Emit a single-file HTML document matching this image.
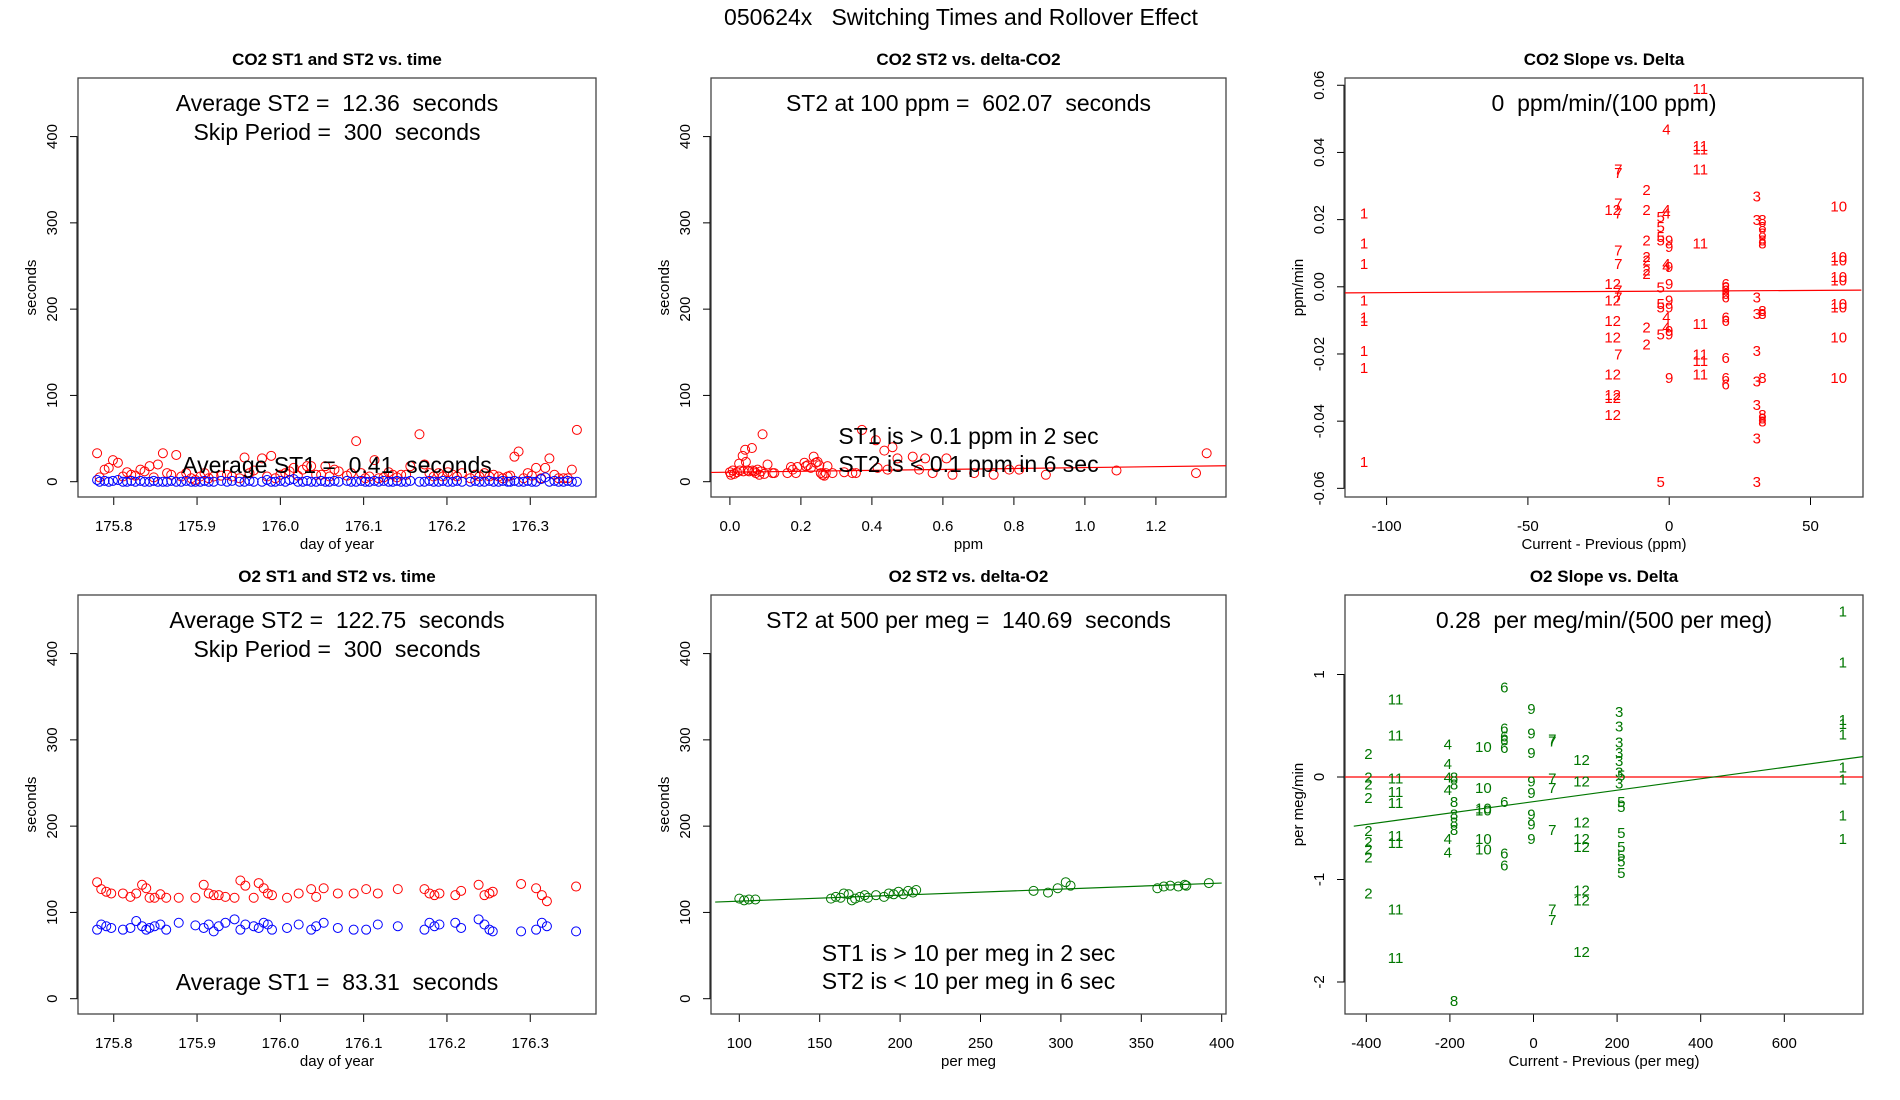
<!DOCTYPE html>
<html><head><meta charset="utf-8"><style>
html,body{margin:0;padding:0;background:#fff;}
svg{display:block;font-family:"Liberation Sans",Arial,sans-serif;}
svg text{white-space:pre;}
</style></head><body>
<svg id="chart" width="1900" height="1100" viewBox="0 0 1900 1100" xmlns="http://www.w3.org/2000/svg">
<text x="961" y="25" font-size="23" text-anchor="middle" xml:space="preserve">050624x   Switching Times and Rollover Effect</text>
</svg>
<script>
// ---- Panel 1 data: CO2 ST1/ST2 vs time ----
const co2Times=[175.780,175.783,175.789,175.794,175.799,175.805,175.811,175.816,175.821,175.826,175.832,175.837,175.843,175.848,175.853,175.859,175.864,175.869,175.875,175.881,175.887,175.893,175.898,175.904,175.909,175.914,175.920,175.929,175.936,175.942,175.951,175.957,175.963,175.968,175.978,175.984,175.989,175.994,176.000,176.006,176.011,176.016,176.021,176.027,176.032,176.037,176.043,176.049,176.054,176.059,176.065,176.070,176.080,176.085,176.091,176.097,176.102,176.107,176.113,176.118,176.124,176.130,176.135,176.140,176.145,176.151,176.156,176.167,176.173,176.179,176.184,176.190,176.195,176.201,176.207,176.212,176.218,176.228,176.234,176.239,176.245,176.251,176.256,176.262,176.267,176.273,176.276,176.281,176.286,176.292,176.297,176.302,176.307,176.313,176.318,176.323,176.329,176.334,176.340,176.345,176.350,176.356];
const co2ST2=[33,5,14,16,25,22,6,11,8,7,14,12,18,5,20,33,10,8,31,6,10,4,2,6,10,4,6,7,8,6,4,28,10,13,27,6,30,4,8,10,12,16,7,14,18,18,8,8,18,6,14,12,7,10,47,10,4,6,25,4,5,11,8,5,8,8,18,55,20,10,6,10,6,11,8,6,10,4,8,6,10,6,8,6,4,6,7,29,35,4,10,7,16,4,16,27,8,4,4,4,14,60];
const co2ST1=[2,0,1,0,1,2,0,0,1,0,1,0,0,1,0,0,0,1,0,0,1,0,0,0,1,0,0,1,0,1,0,0,1,0,0,2,0,0,1,0,2,3,0,0,1,0,0,1,0,0,1,0,1,0,0,1,0,0,1,0,1,0,0,1,0,0,1,0,0,1,0,0,1,0,0,1,0,0,1,0,0,1,0,0,1,0,0,1,0,0,1,0,0,3,5,0,1,0,0,1,0,0];
// ---- Panel 2 data: CO2 ST2 vs delta ----
const co2Delta=[0.00,0.003,0.008,0.012,0.02,0.026,0.028,0.036,0.038,0.043,0.045,0.05,0.054,0.062,0.064,0.069,0.073,0.078,0.083,0.087,0.092,0.097,0.106,0.12,0.125,0.162,0.172,0.177,0.186,0.19,0.21,0.214,0.219,0.228,0.236,0.242,0.247,0.252,0.256,0.261,0.266,0.27,0.275,0.289,0.322,0.345,0.355,0.372,0.411,0.416,0.435,0.444,0.458,0.472,0.515,0.533,0.55,0.571,0.61,0.627,0.688,0.743,0.787,0.815,0.89,1.089,1.313,1.343];
const co2DeltaST2=[11,8,13,9,11,21,13,30,12,37,23,13,12,39,13,12,10,14,8,12,55,9,20,10,10,10,17,14,10,17,22,18,19,16,29,22,23,19,10,8,7,10,18,10,11,10,10,60,48,16,36,14,40,27,29,14,27,10,27,8,10,8,14,14,8,13,10,33];
const co2Fit=[11,18.5]; // ST2 at delta 0 and 1.4
// ---- Panel 3 data: CO2 slope vs delta (labels = month) ----
const co2Groups=[1,12,7,2,5,4,9,11,6,3,8,10];
const co2GroupDelta=[-108,-20,-18,-8,-3,-1,0,11,20,31,33,60];
const co2Slopes=[
 [0.022,0.013,0.007,-0.004,-0.009,-0.010,-0.019,-0.024,-0.052],
 [0.023,0.001,-0.004,-0.010,-0.015,-0.026,-0.032,-0.033,-0.038],
 [0.035,0.034,0.025,0.022,0.011,0.007,-0.001,-0.003,-0.020],
 [0.029,0.023,0.014,0.009,0.008,0.005,0.004,-0.012,-0.017],
 [0.021,0.018,0.015,0.014,0.000,-0.005,-0.006,-0.014,-0.058],
 [0.047,0.023,0.022,0.007,0.006,-0.009,-0.012],
 [0.014,0.012,0.006,0.001,-0.004,-0.006,-0.013,-0.014,-0.027],
 [0.059,0.042,0.041,0.035,0.013,-0.011,-0.020,-0.022,-0.026],
 [0.001,0.000,-0.001,-0.002,-0.003,-0.009,-0.010,-0.021,-0.027,-0.029],
 [0.027,0.020,-0.003,-0.008,-0.019,-0.028,-0.035,-0.045,-0.058],
 [0.020,0.018,0.016,0.014,0.013,-0.007,-0.008,-0.027,-0.038,-0.039,-0.040],
 [0.024,0.009,0.008,0.003,0.002,-0.005,-0.006,-0.015,-0.027]];
const co2SlopeFit=[-0.0018,-0.0010]; // at x=-115 and x=68
// ---- Panel 4 data: O2 ST1/ST2 vs time ----
const o2Times=[175.780,175.785,175.791,175.797,175.811,175.820,175.827,175.834,175.839,175.843,175.849,175.856,175.863,175.878,175.898,175.908,175.914,175.920,175.926,175.934,175.945,175.952,175.958,175.968,175.974,175.980,175.985,175.990,176.008,176.022,176.037,176.043,176.052,176.069,176.088,176.103,176.117,176.141,176.173,176.179,176.185,176.191,176.210,176.217,176.238,176.245,176.251,176.255,176.289,176.307,176.314,176.320,176.355];
const o2ST2=[135,127,124,122,122,118,122,132,128,117,117,121,117,117,117,132,122,120,120,118,117,137,131,117,134,128,122,120,117,122,127,118,128,122,122,127,122,127,127,122,120,122,120,125,132,120,122,124,133,128,120,113,130];
const o2ST1=[80,86,84,82,80,82,90,84,80,82,84,86,80,88,85,82,86,78,84,88,92,80,86,84,82,88,86,80,82,86,80,84,88,82,80,80,86,84,80,88,84,86,88,82,92,86,80,78,78,80,88,84,78];
// ---- Panel 5 data: O2 ST2 vs delta ----
const o2Delta=[100,103,106,110,157,160,163,165,168,170,172,175,178,180,185,190,193,196,199,202,205,208,210,283,292,298,303,306,360,364,368,373,377,378,392];
const o2DeltaST2=[116,114,115,115,116,118,117,122,121,114,116,118,120,117,120,118,122,121,124,121,125,123,126,125,123,128,135,131,128,130,131,130,132,131,134];
const o2Fit=[112,134]; // ST2 at delta 85 and 400
// ---- Panel 6 data: O2 slope vs delta ----
const o2Groups=[2,11,4,8,10,6,9,7,12,3,5,1];
const o2GroupDelta=[-395,-330,-205,-190,-120,-70,-5,45,115,205,210,740];
const o2Slopes=[
 [0.23,0.0,-0.07,-0.2,-0.52,-0.63,-0.7,-0.78,-1.13],
 [0.76,0.41,-0.01,-0.14,-0.25,-0.57,-0.64,-1.29,-1.76],
 [0.32,0.13,0.0,-0.12,-0.6,-0.73],
 [0.0,-0.07,-0.24,-0.36,-0.44,-0.51,-2.18],
 [0.3,-0.1,-0.3,-0.32,-0.6,-0.7],
 [0.88,0.48,0.4,0.36,0.29,-0.24,-0.74,-0.86],
 [0.67,0.43,0.24,-0.04,-0.15,-0.36,-0.46,-0.6],
 [0.37,0.35,-0.01,-0.1,-0.51,-1.29,-1.39],
 [0.17,-0.04,-0.44,-0.6,-0.68,-1.1,-1.2,-1.7],
 [0.64,0.5,0.34,0.24,0.16,0.05,-0.06],
 [0.02,-0.24,-0.29,-0.54,-0.68,-0.76,-0.82,-0.93],
 [1.62,1.12,0.56,0.52,0.42,0.1,-0.02,-0.37,-0.6]];
const o2SlopeFit=[-0.48,0.20]; // at x=-430 and x=790

const NS="http://www.w3.org/2000/svg";
const svg=document.getElementById('chart');
function el(tag,attrs,parent,txt){const e=document.createElementNS(NS,tag);for(const k in attrs)e.setAttribute(k,attrs[k]);if(txt!==undefined)e.textContent=txt;(parent||svg).appendChild(e);return e;}

function panel(id,bx0,by0,bx1,by1,title,xsc,xticks,xfmt,ysc,yticks,yfmt,xlab,ylab){
  const g=el('g',{});
  
  
  const cp=el('clipPath',{id:id+'-clip'},g);
  el('rect',{x:bx0,y:by0,width:bx1-bx0,height:by1-by0},cp);
  const t=el('text',{x:(bx0+bx1)/2,y:by0-13,'font-size':17,'font-weight':'bold','text-anchor':'middle'},g,title);
  
  
  const xa=el('g',{},g);
  
  
  el('line',{x1:xsc(xticks[0]),x2:xsc(xticks[xticks.length-1]),y1:by1,y2:by1,stroke:'#000','stroke-width':1},xa);
  xticks.forEach(v=>{const x=xsc(v);el('line',{x1:x,x2:x,y1:by1,y2:by1+8,stroke:'#000','stroke-width':1},xa);
    const lt=el('text',{x:x,y:by1+34,'font-size':15,'text-anchor':'middle'},xa,xfmt(v));
    
    });
  const xl=el('text',{x:(bx0+bx1)/2,y:by1+52,'font-size':15,'text-anchor':'middle'},g,xlab);
  
  
  const ya=el('g',{},g);
  
  
  el('line',{x1:bx0-1,x2:bx0-1,y1:ysc(yticks[0]),y2:ysc(yticks[yticks.length-1]),stroke:'#000','stroke-width':1},ya);
  yticks.forEach(v=>{const y=ysc(v);el('line',{x1:bx0,x2:bx0-8,y1:y,y2:y,stroke:'#000','stroke-width':1},ya);
    const lt=el('text',{x:0,y:0,'font-size':15,'text-anchor':'middle',transform:`translate(${bx0-21},${y}) rotate(-90)`},ya,yfmt(v));
    
    });
  const yl=el('text',{x:0,y:0,'font-size':15,'text-anchor':'middle',transform:`translate(${bx0-42},${(by0+by1)/2}) rotate(-90)`},g,ylab);
  
  
  const box=el('rect',{x:bx0,y:by0,width:bx1-bx0,height:by1-by0,fill:'none',stroke:'#444','stroke-width':1.3},g);
  
  
  const plot=el('g',{'clip-path':`url(#${id}-clip)`},g);
  
  
  return {g,plot};
}
function note(g,x,y,txt,name){const t=el('text',{x:x,y:y,'font-size':23,'text-anchor':'middle','xml:space':'preserve'},g,txt);
  
  }
function circles(plot,xs,ys,xsc,ysc,color,name){xs.forEach((v,i)=>{const c=el('circle',{cx:xsc(v),cy:ysc(ys[i]),r:4.5,fill:'none',stroke:color,'stroke-width':1},plot);
  
  });}
function fitline(plot,xa,xb,ya,yb,xsc,ysc,color,name){const l=el('line',{x1:xsc(xa),x2:xsc(xb),y1:ysc(ya),y2:ysc(yb),stroke:color,'stroke-width':1.2},plot);
  
  }
function labels(plot,groups,gx,gy,xsc,ysc,color,name){groups.forEach((lab,i)=>{gy[i].forEach(v=>{const t=el('text',{x:xsc(gx[i]),y:ysc(v)+5.5,'font-size':15,'text-anchor':'middle',fill:color},plot,String(lab));
  
  });});}

// layout (real pixels)
const C1=[78,596], C2=[711,1226], C3=[1345,1863], R1=[78,497], R2=[595,1014];
const timeX=v=>113.75+(v-175.8)*833;
const secY1=v=>481.7-v*0.8628, secY2=v=>998.7-v*0.8628;
const secTicks=[0,100,200,300,400], timeTicks=[175.8,175.9,176.0,176.1,176.2,176.3];
const f1=v=>v.toFixed(1), f0=v=>String(v);
const cx1=(C1[0]+C1[1])/2, cx2=(C2[0]+C2[1])/2, cx3=(C3[0]+C3[1])/2;

// Panel 1
let p=panel('co2-time',C1[0],R1[0],C1[1],R1[1],'CO2 ST1 and ST2 vs. time',timeX,timeTicks,f1,secY1,secTicks,f0,'day of year','seconds');
circles(p.plot,co2Times,co2ST2,timeX,secY1,'#ff0000','co2-st2-point');
circles(p.plot,co2Times,co2ST1,timeX,secY1,'#0000ff','co2-st1-point');
note(p.g,cx1,111,'Average ST2 =  12.36  seconds','co2-avg-st2-note');
note(p.g,cx1,140,'Skip Period =  300  seconds','co2-skip-note');
note(p.g,cx1,473,'Average ST1 =  0.41  seconds','co2-avg-st1-note');

// Panel 2
const ppmX=v=>729.9+v*355;
p=panel('co2-delta',C2[0],R1[0],C2[1],R1[1],'CO2 ST2 vs. delta-CO2',ppmX,[0,0.2,0.4,0.6,0.8,1.0,1.2],f1,secY1,secTicks,f0,'ppm','seconds');
circles(p.plot,co2Delta,co2DeltaST2,ppmX,secY1,'#ff0000','co2-delta-point');
fitline(p.plot,-0.1,1.5,co2Fit[0]-0.54,co2Fit[1]+0.54,ppmX,secY1,'#ff0000','co2-delta-fit-line');
note(p.g,cx2,111,'ST2 at 100 ppm =  602.07  seconds','co2-st2-at-100-note');
note(p.g,cx2,444,'ST1 is > 0.1 ppm in 2 sec','co2-st1-note');
note(p.g,cx2,472,'ST2 is < 0.1 ppm in 6 sec','co2-st2-note');

// Panel 3
const dX3=v=>1669.2+v*2.826, sY3=v=>286.8-v*3359;
p=panel('co2-slope',C3[0],R1[0],C3[1],R1[1],'CO2 Slope vs. Delta',dX3,[-100,-50,0,50],f0,sY3,[-0.06,-0.04,-0.02,0,0.02,0.04,0.06],v=>v.toFixed(2),'Current - Previous (ppm)','ppm/min');
fitline(p.plot,-115,68,co2SlopeFit[0],co2SlopeFit[1],dX3,sY3,'#ff0000','co2-slope-fit-line');
labels(p.plot,co2Groups,co2GroupDelta,co2Slopes,dX3,sY3,'#ff0000','co2-slope-label');
note(p.g,cx3,111,'0  ppm/min/(100 ppm)','co2-slope-note');

// Panel 4
p=panel('o2-time',C1[0],R2[0],C1[1],R2[1],'O2 ST1 and ST2 vs. time',timeX,timeTicks,f1,secY2,secTicks,f0,'day of year','seconds');
circles(p.plot,o2Times,o2ST2,timeX,secY2,'#ff0000','o2-st2-point');
circles(p.plot,o2Times,o2ST1,timeX,secY2,'#0000ff','o2-st1-point');
note(p.g,cx1,628,'Average ST2 =  122.75  seconds','o2-avg-st2-note');
note(p.g,cx1,657,'Skip Period =  300  seconds','o2-skip-note');
note(p.g,cx1,990,'Average ST1 =  83.31  seconds','o2-avg-st1-note');

// Panel 5
const megX=v=>739.3+(v-100)*1.608;
p=panel('o2-delta',C2[0],R2[0],C2[1],R2[1],'O2 ST2 vs. delta-O2',megX,[100,150,200,250,300,350,400],f0,secY2,secTicks,f0,'per meg','seconds');
circles(p.plot,o2Delta,o2DeltaST2,megX,secY2,'#007700','o2-delta-point');
fitline(p.plot,85,400,o2Fit[0],o2Fit[1],megX,secY2,'#007700','o2-delta-fit-line');
note(p.g,cx2,628,'ST2 at 500 per meg =  140.69  seconds','o2-st2-at-500-note');
note(p.g,cx2,961,'ST1 is > 10 per meg in 2 sec','o2-st1-note');
note(p.g,cx2,989,'ST2 is < 10 per meg in 6 sec','o2-st2-note');

// Panel 6
const dX6=v=>1533.5+v*0.418, sY6=v=>777-v*102.5;
p=panel('o2-slope',C3[0],R2[0],C3[1],R2[1],'O2 Slope vs. Delta',dX6,[-400,-200,0,200,400,600],f0,sY6,[-2,-1,0,1],f0,'Current - Previous (per meg)','per meg/min');
fitline(p.plot,-500,800,0,0,dX6,sY6,'#ff0000','o2-zero-line');
fitline(p.plot,-430,790,o2SlopeFit[0],o2SlopeFit[1],dX6,sY6,'#007700','o2-slope-fit-line');
labels(p.plot,o2Groups,o2GroupDelta,o2Slopes,dX6,sY6,'#007700','o2-slope-label');
note(p.g,cx3,628,'0.28  per meg/min/(500 per meg)','o2-slope-note');
</script>
</body></html>
